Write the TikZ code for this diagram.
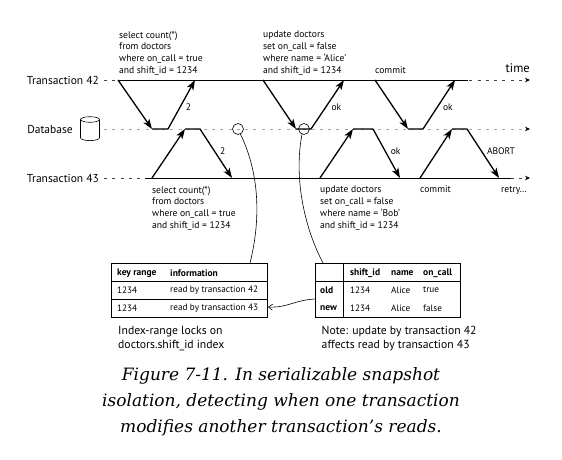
\documentclass[tikz,border=0pt]{standalone}
\usepackage{fontspec}
\setmainfont{PT Sans}
\newfontfamily\capfont{DejaVu Serif}
\usetikzlibrary{arrows.meta}
\tikzset{timeline/.style={line width=1pt},
    dashline/.style={black!75,dash pattern=on 3pt off 5.3pt,line width=0.7pt,
        -{Stealth[length=5pt,width=4.5pt,black]}},
    msg/.style={line width=1.3pt,-{Stealth[length=10pt,width=7pt,inset=2.5pt]}},
    msglbl/.style={pos=0.45,anchor=west,xshift=4pt,inner sep=1pt,font=\fontsize{9.5}{11}\selectfont},
    tx/.style={font=\fontsize{11.5}{13}\selectfont,inner sep=0pt},
    sql/.style={anchor=north west,align=left,inner sep=0pt,font=\fontsize{9.6}{11.8}\selectfont},
    lockmark/.style={circle,draw,line width=0.6pt,minimum size=11pt,inner sep=0pt},
    link/.style={line width=0.6pt},
    tblbox/.style={draw,line width=0.6pt,anchor=north west,inner sep=0pt},
    cell/.style={anchor=west,inner sep=0pt,font=\fontsize{9.2}{10}\selectfont},
    head/.style={cell,font=\fontsize{9.5}{10}\selectfont\bfseries},
    note/.style={anchor=base west,align=left,inner sep=0pt,font=\fontsize{11.7}{14.5}\selectfont}}

\begin{document}
\begin{tikzpicture}[x=1pt,y=-1pt]
      \useasboundingbox (0,0) rectangle (562,460);
      % time axes
      \draw[dashline] (104,80) -- (530,80);
      \draw[dashline,black!35] (104,129) -- (530,129);
      \draw[dashline] (104,178) -- (530,178);
      \draw[timeline] (118,80) -- (468,80);
      \draw[timeline] (145,178) -- (511,178);
      \node[tx,anchor=east] (t42) at (99,80) {Transaction 42};
      \node[tx,anchor=east] (dblbl) at (73,129) {Database};
      \node[tx,anchor=east] (t43) at (99,178) {Transaction 43};
      \node[anchor=base east,inner sep=0pt,font=\fontsize{12.5}{14}\selectfont] (time) at (530,73) {time};
      % database drum
      \draw[link] (90,119.5) ellipse [x radius=9.5,y radius=2.8];
      \draw[link] (80.5,119.5) -- (80.5,137.8) arc [start angle=180,end angle=0,x radius=9.5,y radius=2.8] -- (99.5,119.5);
      % requests and replies
      \foreach \a/\b/\c/\d/\lbl in {118/152/168/195/2,263/296/311/344/ok,375/408/423/455/ok}
      {\draw[msg] (\a,80) -- (\b,129);
       \draw[msg] (\b,129) -- (\c,129) -- (\d,80) node[msglbl] (reply-\a) {\lbl};}
      \foreach \a/\b/\c/\d/\lbl in {152/185/200/232/2,320/353/373/400/ok,420/452/467/499/ABORT}
      {\draw[msg] (\a,178) -- (\b,129);
       \draw[msg] (\b,129) -- (\c,129) -- (\d,178) node[msglbl] (reply-\a) {\lbl};}
      \node[sql] (sel42) at (119,31) {select count(*)\\from doctors\\where on\_call = true\\and shift\_id = 1234};
      \node[sql] (upd42) at (263,31) {update doctors\\set on\_call = false\\where name = ‘Alice’\\and shift\_id = 1234};
      \node[sql,anchor=base west] (com42) at (375,74) {commit};
      \node[sql] (sel43) at (152,186) {select count(*)\\from doctors\\where on\_call = true\\and shift\_id = 1234};
      \node[sql] (upd43) at (320,186) {update doctors\\set on\_call = false\\where name = ‘Bob’\\and shift\_id = 1234};
      \node[sql] (com43) at (420,186) {commit};
      \node[sql] (retry) at (501,186) {retry…};
      % detection
      \node[lockmark] (read43) at (238,129) {};
      \node[lockmark] (write42) at (304,129) {};
      \coordinate (lockin) at (250,263);
      \coordinate (rowin) at (323,263);
      \coordinate (rowout) at (315,299);
      \coordinate (lockat) at (268,307);
      \draw[link] (read43.-65) .. controls (258,170) and (262,215) .. (lockin);
      \draw[link] (write42.-110) .. controls (294,175) and (303,225) .. (rowin);
      \draw[link,-{Straight Barb[length=4pt,width=6pt]}] (rowout) .. controls (295,300) and (287,308) .. (lockat);
      % index-range locks
      \node[tblbox,minimum width=156pt,minimum height=54pt] (locks) at (111,263) {};
      \draw[link] (111,281) -- (267,281);
      \draw[link] (111,299) -- (267,299);
      \node[head] (kr) at (117,273) {key range};
      \node[head] (inf) at (170,273) {information};
      \node[cell] (k1) at (117,290) {1234};
      \node[cell] (i1) at (170,290) {read by transaction 42};
      \node[cell] (k2) at (117,308) {1234};
      \node[cell] (i2) at (170,308) {read by transaction 43};
      % doctors rows
      \node[tblbox,minimum width=145pt,minimum height=54pt] (rows) at (315,263) {};
      \draw[link] (343,263) -- (343,317);
      \draw[link] (315,281) -- (460,281);
      \node[head] (hs) at (350,273) {shift\_id};
      \node[head] (hn) at (391,273) {name};
      \node[head] (hc) at (423,273) {on\_call};
      \node[head] (old) at (320,290) {old};
      \node[cell] (os) at (350,290) {1234};
      \node[cell] (on) at (391,290) {Alice};
      \node[cell] (oc) at (423,290) {true};
      \node[head] (new) at (320,308) {new};
      \node[cell] (ns) at (350,308) {1234};
      \node[cell] (nn) at (391,308) {Alice};
      \node[cell] (nc) at (423,308) {false};
      \node[note] (locknote) at (118,348.5) {Index-range locks on\\doctors.shift\_id index};
      \node[note] (rownote) at (321.5,348.5) {Note: update by transaction 42\\affects read by transaction 43};
      \node[align=center,inner sep=0pt,font=\capfont\itshape\fontsize{17}{26}\selectfont,anchor=base] (caption) at (281,432)
        {Figure 7-11. In serializable snapshot\\isolation, detecting when one transaction\\modifies another transaction’s reads.};
\end{tikzpicture}
\end{document}
